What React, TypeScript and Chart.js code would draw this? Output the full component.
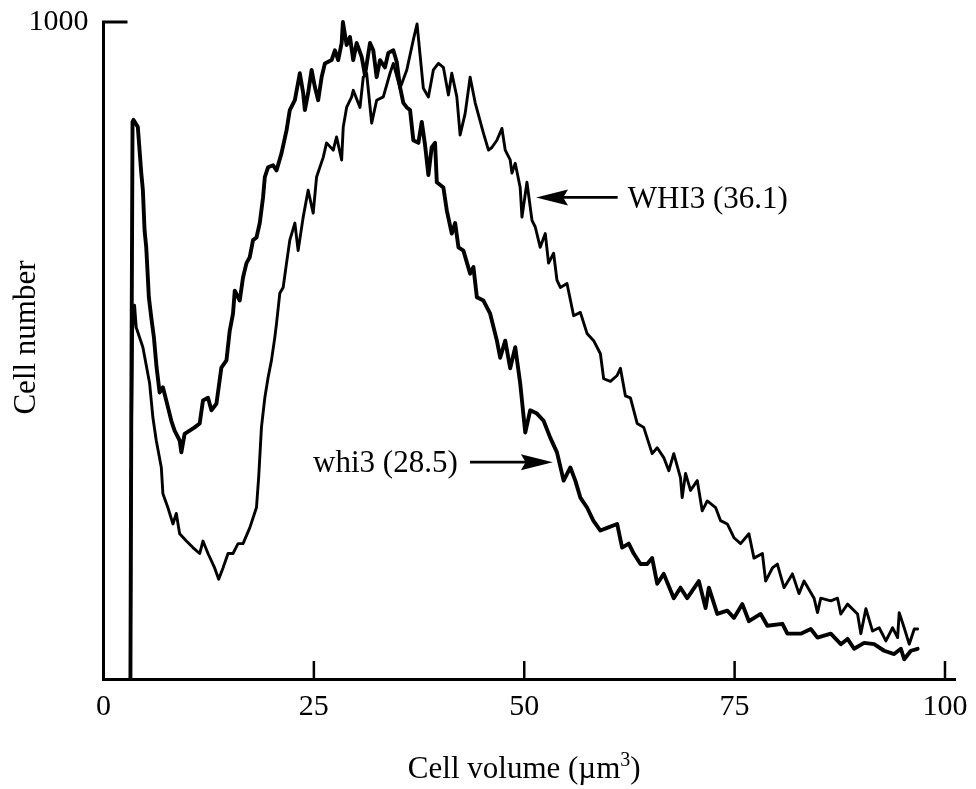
import React, { useEffect, useRef } from "react";
import { Chart, registerables } from "chart.js";

Chart.register(...registerables);

const xTickValues = [0, 25, 50, 75, 100];
const yTickValues = [1000];
const xTitleMain = "Cell volume (µm";
const xTitleSup = "3";
const xTitleEnd = ")";
const yTitle = "Cell number";

// whi3 (28.5) — thick curve, [cell volume, cell number]
const whi3Points: [number, number][] = [
  [3.2, 0], [3.3, 393], [3.45, 848], [3.57, 851], [4.08, 840], [4.49, 770], [4.68, 744], [4.88, 683],
  [5.08, 657], [5.27, 611], [5.39, 581], [5.68, 550], [5.99, 520], [6.31, 474], [6.67, 436], [7.06, 444],
  [7.46, 424], [8.06, 393], [8.45, 378], [9.05, 363], [9.25, 345], [9.64, 373], [10.24, 378], [10.83, 383],
  [11.43, 389], [11.82, 424], [12.42, 428], [12.82, 409], [13.42, 419], [14.01, 474], [14.61, 485], [15.0, 530],
  [15.39, 556], [15.6, 591], [16.19, 576], [16.58, 611], [16.99, 633], [17.38, 642], [17.77, 668], [18.18, 672],
  [18.57, 694], [18.96, 733], [19.17, 764], [19.56, 779], [20.15, 782], [20.56, 774], [21.15, 800], [21.75, 835],
  [22.14, 866], [22.74, 881], [23.33, 922], [23.73, 892], [23.93, 866], [24.32, 892], [24.73, 927], [25.12, 901],
  [25.51, 881], [25.92, 916], [26.31, 937], [27.11, 942], [27.5, 957], [27.89, 942], [28.3, 968], [28.45, 1000],
  [28.89, 965], [29.29, 977], [29.68, 942], [30.08, 968], [30.68, 947], [31.07, 919], [31.67, 968], [32.06, 957],
  [32.46, 916], [32.86, 942], [33.45, 931], [33.85, 953], [34.44, 957], [34.85, 939], [35.24, 901], [35.63, 877],
  [36.04, 870], [36.43, 866], [36.82, 820], [37.42, 816], [37.82, 848], [38.21, 813], [38.61, 767], [39.0, 809],
  [39.4, 816], [39.61, 756], [40.39, 748], [40.8, 713], [41.39, 678], [41.79, 694], [42.18, 657], [42.77, 652],
  [43.57, 617], [43.96, 627], [44.37, 581], [45.15, 576], [45.95, 556], [46.75, 515], [47.14, 489], [47.74, 515],
  [48.33, 473], [48.93, 505], [49.52, 450], [50.12, 375], [50.71, 409], [51.51, 404], [52.3, 393], [53.1, 367],
  [53.89, 345], [54.68, 302], [55.48, 322], [56.07, 302], [56.67, 276], [57.46, 261], [58.21, 241], [59.05, 226],
  [59.85, 230], [61.04, 236], [61.63, 200], [62.42, 206], [63.01, 191], [63.81, 175], [64.61, 175], [65.2, 184],
  [65.8, 145], [66.58, 160], [67.77, 123], [68.57, 139], [69.37, 123], [70.75, 149], [71.55, 108], [71.94, 139],
  [72.94, 99], [74.13, 104], [74.92, 93], [75.92, 114], [76.7, 88], [78.1, 99], [78.89, 81], [80.68, 84],
  [81.27, 69], [82.86, 69], [84.05, 76], [84.85, 63], [86.43, 69], [87.62, 53], [88.42, 61], [89.2, 46],
  [90.39, 55], [91.58, 53], [92.77, 43], [93.96, 38], [94.76, 46], [95.15, 30], [95.95, 43], [96.75, 46],
];

// WHI3 (36.1) — thin curve, [cell volume, cell number]
const WHI3Points: [number, number][] = [
  [3.2, 0], [3.27, 317], [3.32, 378], [3.45, 530], [3.69, 569], [3.89, 535], [4.68, 505], [5.48, 450],
  [5.87, 398], [6.27, 363], [6.87, 322], [7.06, 282], [7.65, 261], [8.25, 236], [8.65, 252], [9.05, 221],
  [9.85, 210], [10.63, 200], [11.43, 191], [11.82, 210], [12.42, 191], [13.21, 169], [13.69, 152], [14.2, 169],
  [14.8, 191], [15.39, 191], [15.99, 206], [16.58, 206], [17.38, 230], [18.18, 261], [18.45, 309], [18.77, 383],
  [19.17, 428], [19.56, 459], [19.96, 485], [20.36, 520], [20.56, 541], [20.95, 587], [21.35, 596], [21.75, 633],
  [22.14, 668], [22.74, 694], [23.13, 652], [23.73, 703], [24.32, 744], [24.92, 709], [25.32, 764], [26.11, 794],
  [26.51, 816], [27.3, 805], [27.7, 825], [28.3, 790], [28.49, 840], [28.89, 870], [29.49, 886], [29.68, 896],
  [30.48, 870], [30.87, 916], [31.27, 922], [31.87, 846], [32.46, 881], [33.25, 886], [34.05, 922], [34.44, 937],
  [35.24, 899], [36.04, 927], [36.82, 973], [37.26, 997], [37.62, 950], [38.01, 899], [38.61, 886], [39.2, 927],
  [39.8, 937], [40.39, 931], [40.99, 889], [41.39, 922], [41.99, 886], [42.38, 828], [42.98, 861], [43.57, 916],
  [44.17, 877], [45.15, 831], [45.75, 805], [46.15, 809], [46.75, 820], [47.35, 838], [47.74, 805], [48.33, 790],
  [48.54, 770], [48.93, 785], [49.52, 748], [49.73, 703], [50.32, 756], [50.92, 698], [51.31, 688], [51.9, 657],
  [52.5, 678], [52.89, 633], [53.49, 648], [53.89, 607], [54.29, 596], [55.08, 602], [55.87, 553], [56.67, 558],
  [57.46, 526], [58.25, 515], [59.05, 495], [59.44, 457], [60.24, 453], [61.04, 462], [61.43, 473], [62.02, 431],
  [62.62, 428], [63.42, 389], [64.2, 383], [65.2, 343], [65.8, 352], [66.58, 337], [67.18, 317], [67.77, 343],
  [68.57, 306], [68.77, 276], [69.17, 313], [69.76, 287], [70.56, 302], [71.15, 256], [71.75, 271], [72.74, 261],
  [73.33, 241], [74.13, 236], [74.92, 215], [75.71, 206], [76.7, 221], [77.3, 184], [78.3, 191], [78.69, 149],
  [79.49, 169], [80.08, 175], [80.87, 139], [81.87, 160], [82.65, 130], [83.25, 149], [84.44, 123], [84.85, 101],
  [85.24, 123], [86.43, 119], [87.23, 123], [87.62, 99], [88.42, 114], [89.61, 99], [90.0, 69], [90.6, 107],
  [91.39, 73], [92.18, 78], [92.98, 58], [93.77, 78], [94.37, 63], [94.56, 101], [95.15, 78], [95.75, 53],
  [96.35, 76], [96.75, 76],
];

// arrow annotations in data units: tip x, tail x, y, text anchor x
const annotations = [
  { text: "WHI3 (36.1)", tipX: 51.4, tailX: 61.1, y: 733, textX: 62.3, align: "left" as CanvasTextAlign },
  { text: "whi3 (28.5)", tipX: 53.4, tailX: 43.55, y: 330, textX: 42.1, align: "right" as CanvasTextAlign },
];

const FONT = "'Liberation Serif', 'Times New Roman', serif";

const decorPlugin = {
  id: "decor",
  afterDraw(chart: any) {
    const { ctx, chartArea } = chart;
    const x = chart.scales.x;
    const y = chart.scales.y;
    ctx.save();
    ctx.strokeStyle = "#000";
    ctx.fillStyle = "#000";
    ctx.lineCap = "butt";

    // inward tick marks
    ctx.lineWidth = 2.5;
    xTickValues.filter((v) => v > 0).forEach((v) => {
      const px = x.getPixelForValue(v);
      ctx.beginPath();
      ctx.moveTo(px, chartArea.bottom);
      ctx.lineTo(px, chartArea.bottom - 18);
      ctx.stroke();
    });
    ctx.lineWidth = 3;
    yTickValues.forEach((v) => {
      const py = y.getPixelForValue(v);
      ctx.beginPath();
      ctx.moveTo(chartArea.left - 1.5, py);
      ctx.lineTo(chartArea.left + 24, py);
      ctx.stroke();
    });

    // x axis title with superscript
    const mainFont = `31px ${FONT}`;
    const supFont = `20px ${FONT}`;
    ctx.font = mainFont;
    const wMain = ctx.measureText(xTitleMain).width;
    const wEnd = ctx.measureText(xTitleEnd).width;
    ctx.font = supFont;
    const wSup = ctx.measureText(xTitleSup).width;
    const cx = x.getPixelForValue(50);
    const baseY = 778;
    let sx = cx - (wMain + wSup + wEnd) / 2;
    ctx.textAlign = "left";
    ctx.textBaseline = "alphabetic";
    ctx.font = mainFont;
    ctx.fillText(xTitleMain, sx, baseY);
    sx += wMain;
    ctx.font = supFont;
    ctx.fillText(xTitleSup, sx, baseY - 12);
    sx += wSup;
    ctx.font = mainFont;
    ctx.fillText(xTitleEnd, sx, baseY);

    // y axis title
    ctx.save();
    ctx.translate(27, (chartArea.top + chartArea.bottom) / 2 - 13);
    ctx.rotate(-Math.PI / 2);
    ctx.font = mainFont;
    ctx.textAlign = "center";
    ctx.textBaseline = "middle";
    ctx.fillText(yTitle, 0, 0);
    ctx.restore();

    // annotations with arrows
    annotations.forEach((a) => {
      const tip = x.getPixelForValue(a.tipX);
      const tail = x.getPixelForValue(a.tailX);
      const py = y.getPixelForValue(a.y);
      const dir = tail > tip ? 1 : -1;
      const headLen = 32;
      const headHalf = 8;
      ctx.lineWidth = 2.8;
      ctx.beginPath();
      ctx.moveTo(tail, py);
      ctx.lineTo(tip + dir * headLen * 0.8, py);
      ctx.stroke();
      ctx.beginPath();
      ctx.moveTo(tip, py);
      ctx.lineTo(tip + dir * headLen, py - headHalf);
      ctx.lineTo(tip + dir * headLen * 0.85, py);
      ctx.lineTo(tip + dir * headLen, py + headHalf);
      ctx.closePath();
      ctx.fill();
      ctx.font = mainFont;
      ctx.textAlign = a.align;
      ctx.textBaseline = "middle";
      ctx.fillText(a.text, x.getPixelForValue(a.textX), py + 2);
    });
    ctx.restore();
  },
};

export default function App() {
  const canvasRef = useRef<HTMLCanvasElement | null>(null);

  useEffect(() => {
    const canvas = canvasRef.current;
    if (!canvas) return;
    const tickFont = { family: FONT, size: 30 };
    const chart = new Chart(canvas, {
      type: "line",
      data: {
        datasets: [
          {
            label: "WHI3 (36.1)",
            data: WHI3Points.map(([vx, vy]) => ({ x: vx, y: vy })),
            borderColor: "#000",
            borderWidth: 2.9,
            pointRadius: 0,
            tension: 0,
            fill: false,
            clip: false as any,
            borderJoinStyle: "round",
            borderCapStyle: "round",
          },
          {
            label: "whi3 (28.5)",
            data: whi3Points.map(([vx, vy]) => ({ x: vx, y: vy })),
            borderColor: "#000",
            borderWidth: 3.9,
            pointRadius: 0,
            tension: 0,
            fill: false,
            clip: false as any,
            borderJoinStyle: "round",
            borderCapStyle: "round",
          },
        ],
      },
      options: {
        responsive: false,
        animation: false,
        devicePixelRatio: 1,
        layout: { padding: { left: 0, top: 22, right: 21, bottom: 0 } },
        plugins: {
          legend: { display: false },
          tooltip: { enabled: false },
          title: { display: false },
        },
        scales: {
          x: {
            type: "linear",
            min: 0,
            max: 101.19,
            afterBuildTicks: (s: any) => {
              s.ticks = xTickValues.map((v) => ({ value: v }));
            },
            afterFit: (s: any) => {
              s.height = 110;
              s.paddingLeft = 0;
              s.paddingRight = 0;
            },
            grid: { display: false, drawTicks: false },
            border: { display: true, width: 3, color: "#000" },
            ticks: {
              color: "#000",
              font: tickFont,
              padding: 10,
              maxRotation: 0,
              autoSkip: false,
              callback: (v: any) => String(v),
            },
          },
          y: {
            type: "linear",
            min: 0,
            max: 1000,
            afterBuildTicks: (s: any) => {
              s.ticks = yTickValues.map((v) => ({ value: v }));
            },
            afterFit: (s: any) => {
              s.width = 103.5;
              s.paddingTop = 0;
              s.paddingBottom = 0;
            },
            grid: { display: false, drawTicks: false },
            border: { display: true, width: 3, color: "#000" },
            ticks: {
              color: "#000",
              font: tickFont,
              padding: 15,
              autoSkip: false,
              callback: (v: any) => String(v),
            },
          },
        },
      },
      plugins: [decorPlugin],
    });
    return () => chart.destroy();
  }, []);

  return (
    <div style={{ position: "fixed", left: 0, top: 0, width: 976, height: 789, background: "#fff" }}>
      <canvas ref={canvasRef} width={976} height={789} style={{ display: "block" }} />
    </div>
  );
}
